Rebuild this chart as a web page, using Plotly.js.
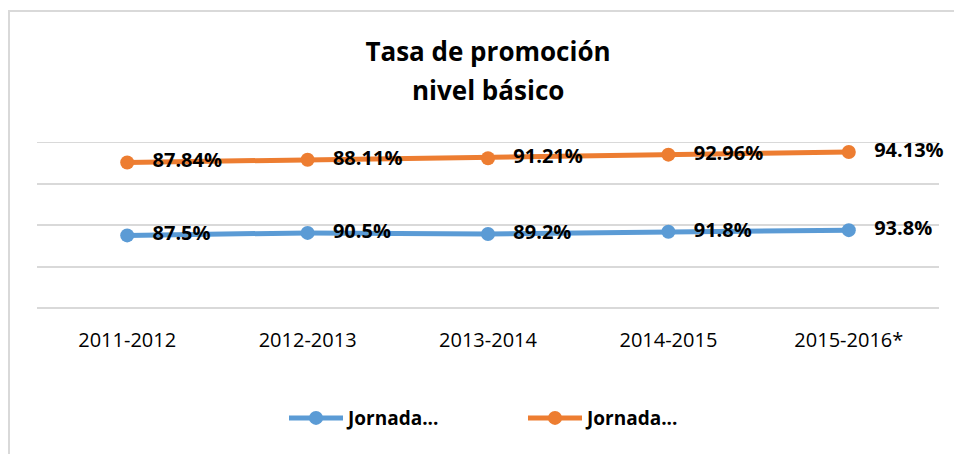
<!DOCTYPE html>
<html>
<head>
<meta charset="utf-8">
<script src="https://cdn.plot.ly/plotly-3.0.1.min.js"></script>
<style>
  html, body { margin: 0; padding: 0; background: #fff; }
  #wrap { position: relative; width: 954px; height: 454px; overflow: hidden; }
  #chart { position: absolute; left: 0; top: 0; width: 954px; height: 454px; }
  #frame { position: absolute; left: 8px; top: 10px; width: 960px; height: 460px;
           border-left: 2px solid #d9d9d9; border-top: 2px solid #d9d9d9; pointer-events: none; }
</style>
</head>
<body>
<div id="wrap">
  <div id="chart"></div>
  <div id="frame"></div>
</div>
<script>
const categories = ["2011-2012", "2012-2013", "2013-2014", "2014-2015", "2015-2016*"];
const seriesNames = ["Jornada...", "Jornada..."];
const titleLines = ["Tasa de promoción", "nivel básico"];
const blueValues = [87.5, 90.5, 89.2, 91.8, 93.8];
const orangeValues = [87.84, 88.11, 91.21, 92.96, 94.13];
const blueLabels = blueValues.map(v => v.toFixed(1) + "%");
const orangeLabels = orangeValues.map(v => v.toFixed(2) + "%");

const BLUE = "#5B9BD5";
const ORANGE = "#ED7D31";
const GRID = "#d9d9d9";
const pad = "\u00a0\u00a0\u00a0";

const labelFont = { family: "Open Sans", size: 20, color: "#000", weight: 700 };
const titleFont = { family: "Open Sans", size: 26, color: "#000", weight: 700 };

const traces = [
  {
    x: categories, y: blueValues, name: seriesNames[0],
    type: "scatter", mode: "lines+markers+text", stackgroup: "s", fill: "none",
    line: { color: BLUE, width: 5 }, marker: { color: BLUE, size: 14 },
    text: blueLabels.map(t => pad + t), texttemplate: "%{text}", textposition: "middle right",
    textfont: labelFont, hoverinfo: "skip", cliponaxis: false
  },
  {
    x: categories, y: orangeValues, name: seriesNames[1],
    type: "scatter", mode: "lines+markers+text", stackgroup: "s", fill: "none",
    line: { color: ORANGE, width: 5 }, marker: { color: ORANGE, size: 14 },
    text: orangeLabels.map(t => pad + t), texttemplate: "%{text}", textposition: "middle right",
    textfont: labelFont, hoverinfo: "skip", cliponaxis: false
  }
];

const layout = {
  width: 954, height: 454,
  margin: { l: 37, r: 15, t: 142, b: 146 },
  paper_bgcolor: "#fff", plot_bgcolor: "#fff",
  title: {
    text: titleLines[0],
    font: titleFont,
    x: 0.5, xref: "paper", xanchor: "center",
    y: 1 - 52 / 454, yref: "container", yanchor: "middle"
  },
  annotations: [{
    text: titleLines[1], font: titleFont, showarrow: false,
    xref: "paper", x: 0.5, xanchor: "center",
    yref: "paper", y: 1 + (142 - 90) / 166, yanchor: "middle"
  }],
  shapes: [{
    type: "line", xref: "paper", x0: 0, x1: 1, yref: "y", y0: 200, y1: 200,
    line: { color: GRID, width: 2 }, layer: "below"
  }],
  xaxis: {
    type: "category", range: [-0.5, 4.5], showgrid: false, zeroline: false, showline: false,
    ticks: "", tickfont: { family: "Open Sans", size: 20, color: "#000" },
    ticklabelstandoff: 18, fixedrange: true
  },
  yaxis: {
    range: [0, 200], dtick: 50, showticklabels: false, ticks: "",
    showgrid: true, gridcolor: GRID, gridwidth: 2,
    zeroline: true, zerolinecolor: GRID, zerolinewidth: 2, showline: false, fixedrange: true
  },
  showlegend: true,
  legend: {
    orientation: "h", x: 0.5388, xanchor: "center", y: -0.663, yanchor: "middle",
    font: { family: "Open Sans", size: 19, color: "#000", weight: 700 },
    itemwidth: 54, entrywidth: 170, entrywidthmode: "pixels", traceorder: "normal"
  }
};

Plotly.newPlot("chart", traces, layout, { staticPlot: true, displayModeBar: false });
</script>
</body>
</html>
